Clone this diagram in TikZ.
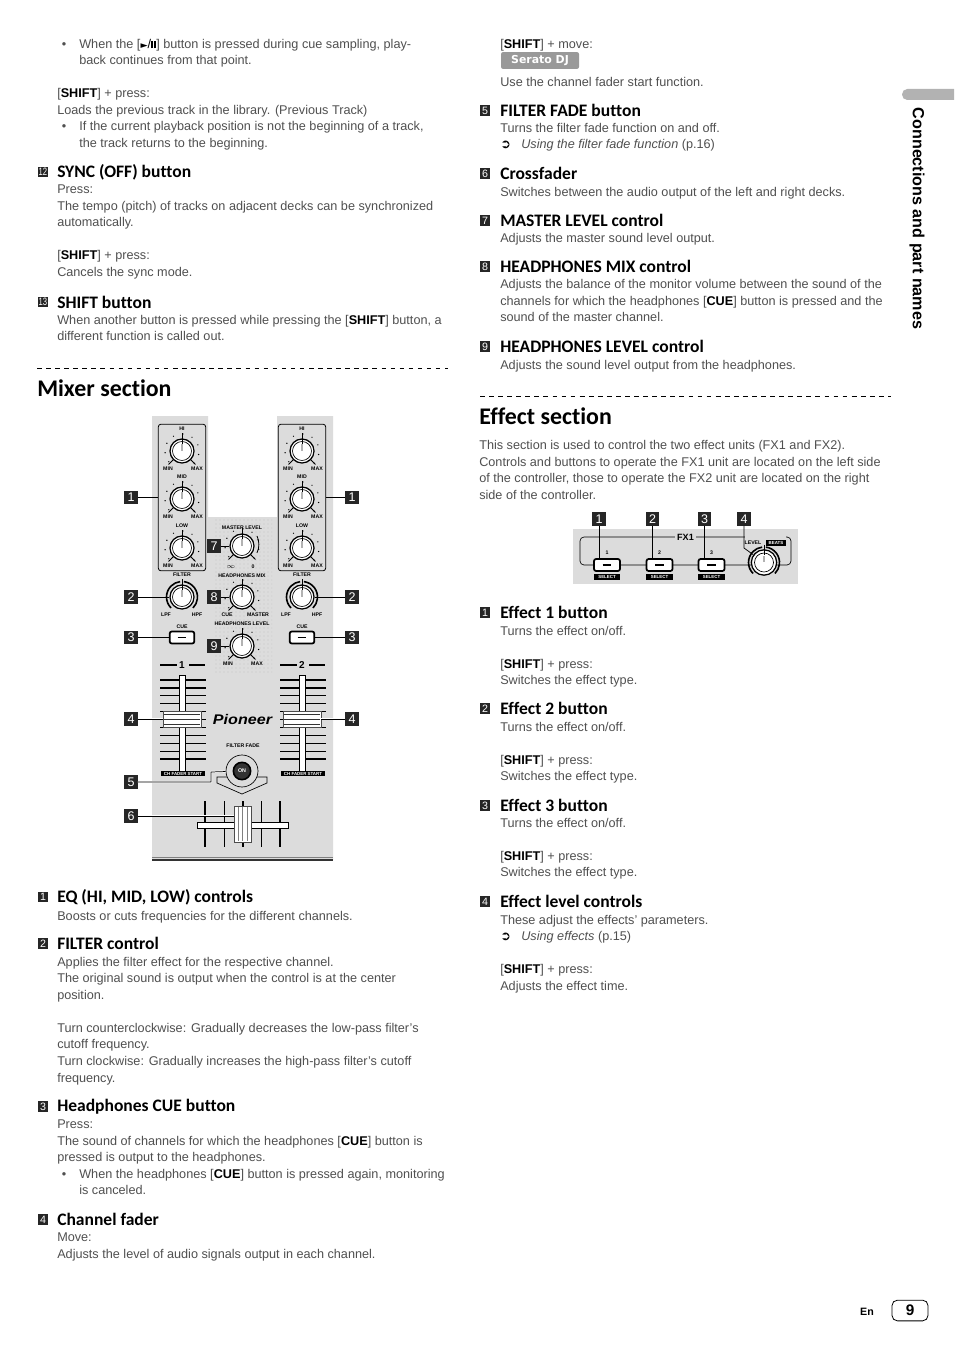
\documentclass[tikz,border=0pt]{standalone}
\usepackage{fontspec}
\setmainfont{Liberation Sans}
\newfontfamily\headfont[Ligatures=CommonOff]{Carlito}
\newfontfamily\symfont{DejaVu Sans}
\usetikzlibrary{positioning}
\usetikzlibrary{patterns}
\definecolor{panelgray}{HTML}{DCDCDC}
\definecolor{inkgray}{HTML}{505050}
\newcommand{\btn}[1]{{\color{black}\bfseries #1}}
\newcommand{\bul}{\makebox[16.5pt][l]{\hspace{3.4pt}\textbullet}}
\newcommand{\ind}{\hspace*{16.5pt}}
\newcommand{\seeref}{\makebox[15.8pt][l]{{\symfont\color{black}➲}}}
\newcommand{\playpause}{{\symfont\color{black}\scriptsize ►}{\color{black}/\rule{1.6pt}{5.8pt}\hspace{0.6pt}\rule{1.6pt}{5.8pt}}}
\tikzset{
	bodytext/.style={anchor=north west, inner sep=0pt, align=left, yshift=3.5pt, text=inkgray,
		font=\fontsize{9.5}{12.4}\selectfont, execute at begin node={\rule{0pt}{8pt}}},
	headtext/.style={anchor=west, inner sep=0pt, font=\headfont\bfseries\fontsize{13.15}{14}\selectfont},
	sectiontext/.style={anchor=west, inner sep=0pt, font=\headfont\bfseries\fontsize{17.9}{20}\selectfont},
	numchip/.style={fill=black!85, text=white, inner sep=0pt, minimum size=8.2pt, font=\fontsize{8}{8}\selectfont},
	callout/.style={fill=black!85, text=white, inner sep=0pt, minimum size=9.8pt, font=\fontsize{9.4}{9}\selectfont},
	paneltext/.style={inner sep=0pt, font=\bfseries\fontsize{3.9}{4}\selectfont},
	barlabel/.style={fill=black, text=white, inner sep=0pt, minimum height=3.6pt, font=\bfseries\fontsize{3.3}{4}\selectfont},
	leader/.style={line width=0.55pt},
	halo/.style={line width=0.55pt, preaction={draw=white, line width=1.5pt}},
	knobnode/.style={circle, draw=black, line width=0.95pt, fill=white, inner sep=0pt, minimum size=18pt},
	cuebtn/.style={draw=black, line width=1.3pt, fill=white, rounded corners=1.6pt, inner sep=0pt,
		minimum width=18.5pt, minimum height=9pt},
	capnode/.style={draw=black!70, line width=0.4pt, fill=white, inner sep=0pt},
	knobmarks/.pic={
		\draw[line width=0.5pt] (0,0) circle (9.5);
		\fill[white] (0,0) circle (7.8);
		\draw[line width=0.7pt] (0,18) -- (0,7.5);
		\draw[line width=1pt, gray!60] (0,7) -- (0,0.5);
		\draw[line width=0.7pt] (225:12) -- (225:19);
		\draw[line width=0.7pt] (315:12) -- (315:19);
		\foreach \a in {-45,-12,...,225} {
			\fill (\a:17) circle (0.7);
		}
	},
	filtermarks/.pic={
		\draw[line width=0.5pt] (0,0) circle (9.5);
		\fill[white] (0,0) circle (7.8);
		\draw[line width=1.2pt] (225:15.5) arc (225:97:15.5);
		\draw[line width=1.2pt] (83:15.5) arc (83:-45:15.5);
		\draw[line width=0.7pt] (0,18) -- (0,7.5);
		\draw[line width=1pt, gray!60] (0,7) -- (0,0.5);
	}
}
\begin{document}
\begin{tikzpicture}[x=0.75pt, y=0.75pt]
	\useasboundingbox[fill=white] (0,0) rectangle (954,-1348);
	% left column, top
	\node[bodytext] (b11) at (57,-43.5) {\bul When the [\playpause] button is pressed during cue sampling, play-\\\ind back continues from that point.\\[\baselineskip][\btn{SHIFT}] + press:\\Loads the previous track in the library. (Previous Track)\\\bul If the current playback position is not the beginning of a track,\\\ind the track returns to the beginning.};
	\node[numchip] (n12) at (43,-172) {\scalebox{0.72}[1]{12}};
	\node[headtext] (h12) at (57,-172) {SYNC (OFF) button};
	\node[bodytext] (b12) at (57,-189.5) {Press:\\The tempo (pitch) of tracks on adjacent decks can be synchronized\\automatically.\\[\baselineskip][\btn{SHIFT}] + press:\\Cancels the sync mode.};
	\node[numchip] (n13) at (43,-302) {\scalebox{0.72}[1]{13}};
	\node[headtext] (h13) at (57,-302) {SHIFT button};
	\node[bodytext] (b13) at (57,-319.5) {When another button is pressed while pressing the [\btn{SHIFT}] button, a\\different function is called out.};
	\draw[line width=0.5pt, dash pattern=on 3.4pt off 3.4pt] (37,-368) -- (448,-368);
	\node[sectiontext] (mixerTitle) at (37,-388) {Mixer section};
	% mixer panel
	\fill[panelgray] (152,-416) -- (208,-416) -- (208,-517) -- (277,-517) -- (277,-416) -- (333,-416) -- (333,-860) -- (152,-860) -- cycle;
	\fill[pattern=dots, pattern color=gray!45] (213,-517) rectangle (272,-674);
	\draw[gray, line width=0.5pt] (152,-857) -- (333,-857);
	\draw[black!80, line width=1.2pt] (152,-860) -- (333,-860);
	\foreach \side/\xc in {L/182,R/302} {
		\node[draw=black, line width=0.6pt, rounded corners=2pt, inner sep=0pt, minimum width=35.5pt, minimum height=110pt] (eq\side) at (\xc,-497.5) {};
		\foreach \band/\lab/\yc in {Hi/HI/451,Mid/MID/499,Low/LOW/548} {
			\node[knobnode] (\band\side) at (\xc,-\yc) {};
			\pic at (\band\side) {knobmarks};
			\node[paneltext] (\band\side Tag) at (\xc,-\yc+22.5) {\lab};
			\node[paneltext] (\band\side Min) at (\xc-14,-\yc-18) {MIN};
			\node[paneltext] (\band\side Max) at (\xc+15,-\yc-18) {MAX};
		}
		\node[paneltext] (filterTag\side) at (\xc,-575) {FILTER};
		\node[knobnode] (filter\side) at (\xc,-597) {};
		\pic at (filter\side) {filtermarks};
		\node[paneltext] (lpf\side) at (\xc-16,-615) {LPF};
		\node[paneltext] (hpf\side) at (\xc+15,-615) {HPF};
		\node[paneltext] (cueTag\side) at (\xc,-627) {CUE};
		\node[cuebtn] (cue\side) at (\xc,-637.5) {\rule{6.6pt}{1.4pt}};
		\draw[line width=1.4pt] (\xc-22,-665) -- (\xc-5,-665);
		\draw[line width=1.4pt] (\xc+7,-665) -- (\xc+23,-665);
		\foreach \n in {0,...,10} {
			\draw[line width=0.9pt] (\xc-22,{-680-7.9*\n}) -- (\xc+24,{-680-7.9*\n});
		}
		\fill[white] (\xc-3,-675) rectangle (\xc+3.5,-773);
		\draw[black, line width=0.5pt] (\xc-3,-675) rectangle (\xc+3.5,-773);
		\node[capnode, minimum width=28.5pt, minimum height=12pt] (cap\side) at (\xc,-719) {};
		\foreach \y in {-714,-719,-724} {
			\draw[black!80, line width=0.4pt] (\xc-18,\y) -- (\xc+18,\y);
		}
		\node[barlabel, minimum width=33pt] (start\side) at (\xc+1,-773.5) {CH FADER START};
	}
	\node[inner sep=0pt, font=\bfseries\fontsize{7.5}{8}\selectfont] (deckOne) at (182,-665) {1};
	\node[inner sep=0pt, font=\bfseries\fontsize{7.5}{8}\selectfont] (deckTwo) at (302,-665) {2};
	% centre knobs
	\node[paneltext] (masterTag) at (242,-527.5) {MASTER LEVEL};
	\node[knobnode] (masterKnob) at (242,-546) {};
	\pic at (masterKnob) {knobmarks};
	\draw[line width=0.6pt] (257,-536) arc (25:-25:20);
	\node[inner sep=0pt, font=\fontsize{4.5}{5}\selectfont] (masterInf) at (231,-567) {$\infty$};
	\node[paneltext] (masterZero) at (253,-567) {0};
	\node[paneltext] (mixTag) at (242,-576) {HEADPHONES MIX};
	\node[knobnode] (mixKnob) at (242,-597) {};
	\pic at (mixKnob) {knobmarks};
	\node[paneltext] (mixCue) at (227,-615) {CUE};
	\node[paneltext] (mixMaster) at (258,-615) {MASTER};
	\node[paneltext] (levelTag) at (242,-623.5) {HEADPHONES LEVEL};
	\node[knobnode] (levelKnob) at (242,-646) {};
	\pic at (levelKnob) {knobmarks};
	\node[paneltext] (levelMin) at (228,-664) {MIN};
	\node[paneltext] (levelMax) at (257,-664) {MAX};
	\node[inner sep=0pt, font=\bfseries\itshape\fontsize{10.5}{11}\selectfont] (logo) at (242.5,-719) {\scalebox{1.15}[1]{Pioneer}};
	\node[paneltext] (fadeTag) at (243,-746) {FILTER FADE};
	\draw[line width=0.5pt] (227,-777) -- (217,-777) -- (217,-783) -- (242,-794) -- (267,-783) -- (267,-777) -- (257,-777);
	\node[circle, draw=black, line width=0.5pt, fill=panelgray, inner sep=0pt, minimum size=24pt] (onRing) at (242,-771) {};
	\node[circle, draw=black, line width=1.2pt, fill=black!80, text=white, inner sep=0pt, minimum size=13pt, font=\bfseries\fontsize{4}{4}\selectfont] (onBtn) at (onRing) {ON};
	% crossfader
	\foreach \x/\w in {205/0.9,224/0.7,243/0.9,261/0.4,280/0.9} {
		\draw[line width=\w pt] (\x,-801) -- (\x,-847);
	}
	\draw[fill=white, line width=0.5pt] (197,-822) rectangle (288,-828);
	\node[capnode, minimum width=12.5pt, minimum height=27pt] (capX) at (242.5,-824) {};
	\foreach \x in {238,242.5,247} {
		\draw[gray, line width=0.5pt] (\x,-807) -- (\x,-841);
	}
	% callouts of the mixer
	\foreach \name/\lab/\x/\y in {cOneL/1/131/497.5,cOneR/1/352/497.5,cTwoL/2/131/597,cTwoR/2/352/597,cThreeL/3/131/637.5,cThreeR/3/352/637.5,cFourL/4/131/719,cFourR/4/352/719,cFive/5/131/782,cSix/6/131/816,cSeven/7/214/546,cEight/8/214/597,cNine/9/214/646} {
		\node[callout] (\name) at (\x,-\y) {\lab};
	}
	\draw[leader] (cOneL) -- (eqL);
	\draw[leader] (cOneR) -- (eqR);
	\draw[leader] (cTwoL) -- (filterL);
	\draw[leader] (cTwoR) -- (filterR);
	\draw[leader] (cThreeL) -- (cueL);
	\draw[leader] (cThreeR) -- (cueR);
	\draw[leader] (cSeven) -- (masterKnob);
	\draw[leader] (cEight) -- (mixKnob);
	\draw[leader] (cNine) -- (levelKnob);
	\draw[halo] (cFourL) -- (capL);
	\draw[halo] (cFourR) -- (capR);
	\coordinate (bendFive) at (211,-772);
	\draw[halo] (cFive) -| (bendFive) -- (onRing);
	\draw[halo] (cSix) -- (cSix -| capX.west);
	% left column, bottom
	\node[numchip] (m1) at (43,-897) {1};
	\node[headtext] (mh1) at (57,-897.5) {EQ (HI, MID, LOW) controls};
	\node[bodytext] (mb1) at (57,-914) {Boosts or cuts frequencies for the different channels.};
	\node[numchip] (m2) at (43,-943.5) {2};
	\node[headtext] (mh2) at (57,-943.5) {FILTER control};
	\node[bodytext] (mb2) at (57,-961.5) {Applies the filter effect for the respective channel.\\The original sound is output when the control is at the center\\position.\\[\baselineskip]Turn counterclockwise: Gradually decreases the low-pass filter's\\cutoff frequency.\\Turn clockwise: Gradually increases the high-pass filter's cutoff\\frequency.};
	\node[numchip] (m3) at (43,-1106.5) {3};
	\node[headtext] (mh3) at (57,-1106.5) {Headphones CUE button};
	\node[bodytext] (mb3) at (57,-1124.5) {Press:\\The sound of channels for which the headphones [\btn{CUE}] button is\\pressed is output to the headphones.\\\bul When the headphones [\btn{CUE}] button is pressed again, monitoring\\\ind is canceled.};
	\node[numchip] (m4) at (43,-1219.5) {4};
	\node[headtext] (mh4) at (57,-1219.5) {Channel fader};
	\node[bodytext] (mb4) at (57,-1237.5) {Move:\\Adjusts the level of audio signals output in each channel.};
	% right column, top
	\node[bodytext] (r1) at (500,-42.5) {[\btn{SHIFT}] + move:};
	\node[fill=gray!80, text=white, rounded corners=1.5pt, inner sep=0pt, minimum width=58.5pt, minimum height=12.6pt, font=\symfont\bfseries\fontsize{8.2}{10}\selectfont] (serato) at (540,-60.5) {\raisebox{-0.6pt}{Serato DJ}};
	\node[bodytext] (r2) at (500,-80.5) {Use the channel fader start function.};
	\node[numchip] (m5) at (485,-110.5) {5};
	\node[headtext] (mh5) at (500,-110.5) {FILTER FADE button};
	\node[bodytext] (mb5) at (500,-127.5) {Turns the filter fade function on and off.\\\seeref\textit{Using the filter fade function} (p.16)};
	\node[numchip] (m6) at (485,-173.5) {6};
	\node[headtext] (mh6) at (500,-173.5) {Crossfader};
	\node[bodytext] (mb6) at (500,-190.5) {Switches between the audio output of the left and right decks.};
	\node[numchip] (m7) at (485,-220.5) {7};
	\node[headtext] (mh7) at (500,-220.5) {MASTER LEVEL control};
	\node[bodytext] (mb7) at (500,-236.5) {Adjusts the master sound level output.};
	\node[numchip] (m8) at (485,-266.5) {8};
	\node[headtext] (mh8) at (500,-266.5) {HEADPHONES MIX control};
	\node[bodytext] (mb8) at (500,-284) {Adjusts the balance of the monitor volume between the sound of the\\channels for which the headphones [\btn{CUE}] button is pressed and the\\sound of the master channel.};
	\node[numchip] (m9) at (485,-346.5) {9};
	\node[headtext] (mh9) at (500,-346.5) {HEADPHONES LEVEL control};
	\node[bodytext] (mb9) at (500,-363.5) {Adjusts the sound level output from the headphones.};
	\draw[line width=0.9pt, dash pattern=on 3.6pt off 3.2pt] (480,-396.5) -- (891,-396.5);
	\node[sectiontext] (effectTitle) at (479,-416.5) {Effect section};
	\node[bodytext] (effectIntro) at (479,-445) {This section is used to control the two effect units (FX1 and FX2).\\Controls and buttons to operate the FX1 unit are located on the left side\\of the controller, those to operate the FX2 unit are located on the right\\side of the controller.};
	% effect panel
	\fill[panelgray] (573,-528.5) rectangle (798,-584);
	\draw[line width=0.5pt, rounded corners=3pt] (580,-537) rectangle (791,-565);
	\node[fill=panelgray, inner sep=1.5pt, font=\bfseries\fontsize{6.8}{7}\selectfont] (fxTag) at (685.5,-537) {FX1};
	\foreach \name/\x/\lab in {btnOne/607/1,btnTwo/659.5/2,btnThree/711.5/3} {
		\node[paneltext] (\name Tag) at (\x,-553) {\lab};
		\node[cuebtn, minimum width=19.5pt] (\name) at (\x,-565) {\rule{6.6pt}{1.4pt}};
		\node[barlabel, minimum width=20pt, minimum height=4pt] (\name Bar) at (\x,-577) {SELECT};
	}
	\node[paneltext, fill=panelgray, inner sep=1pt] (levelFx) at (753,-543) {LEVEL};
	\node[barlabel, minimum width=15pt, minimum height=4.4pt] (beatsFx) at (776,-543) {BEATS};
	\fill[panelgray] (745,-535) rectangle (786,-539);
	\node[knobnode, minimum size=19pt] (fxKnob) at (764,-562.5) {};
	\pic at (fxKnob) {filtermarks};
	\foreach \name/\x/\lab in {fOne/599/1,fTwo/652.5/2,fThree/704.5/3,fFour/744/4} {
		\node[callout] (\name) at (\x,-519) {\lab};
	}
	\draw[leader] (fOne.south) -- (fOne.south |- btnOne.north);
	\draw[leader] (fTwo.south) -- (fTwo.south |- btnTwo.north);
	\draw[leader] (fThree.south) -- (fThree.south |- btnThree.north);
	\coordinate (bendFour) at (744,-548);
	\draw[leader] (fFour.south) -- (bendFour) -- (fxKnob);
	% right column, bottom
	\node[numchip] (e1) at (485,-612.5) {1};
	\node[headtext] (eh1) at (500,-612.5) {Effect 1 button};
	\node[bodytext] (eb1) at (500,-630.5) {Turns the effect on/off.\\[\baselineskip][\btn{SHIFT}] + press:\\Switches the effect type.};
	\node[numchip] (e2) at (485,-708.5) {2};
	\node[headtext] (eh2) at (500,-708.5) {Effect 2 button};
	\node[bodytext] (eb2) at (500,-726.5) {Turns the effect on/off.\\[\baselineskip][\btn{SHIFT}] + press:\\Switches the effect type.};
	\node[numchip] (e3) at (485,-805.5) {3};
	\node[headtext] (eh3) at (500,-805.5) {Effect 3 button};
	\node[bodytext] (eb3) at (500,-822.5) {Turns the effect on/off.\\[\baselineskip][\btn{SHIFT}] + press:\\Switches the effect type.};
	\node[numchip] (e4) at (485,-901.5) {4};
	\node[headtext] (eh4) at (500,-901.5) {Effect level controls};
	\node[bodytext] (eb4) at (500,-919.5) {These adjust the effects' parameters.\\\seeref\textit{Using effects} (p.15)\\[\baselineskip][\btn{SHIFT}] + press:\\Adjusts the effect time.};
	% side tab and page number
	\fill[gray!60, rounded corners=4pt] (954,-89) -- (902,-89) -- (902,-100) -- (954,-100);
	\node[rotate=-90, inner sep=0pt, font=\bfseries\fontsize{12.1}{12}\selectfont] (sideTitle) at (917,-218.5) {Connections and part names};
	\node[inner sep=0pt, font=\bfseries\fontsize{8}{9}\selectfont] (langTag) at (867,-1311.5) {En};
	\node[draw=black, line width=0.6pt, rounded corners=4pt, inner sep=0pt, minimum width=27pt, minimum height=15.5pt, font=\bfseries\fontsize{11.5}{12}\selectfont] (pageNum) at (910,-1310.5) {9};
\end{tikzpicture}
\end{document}
